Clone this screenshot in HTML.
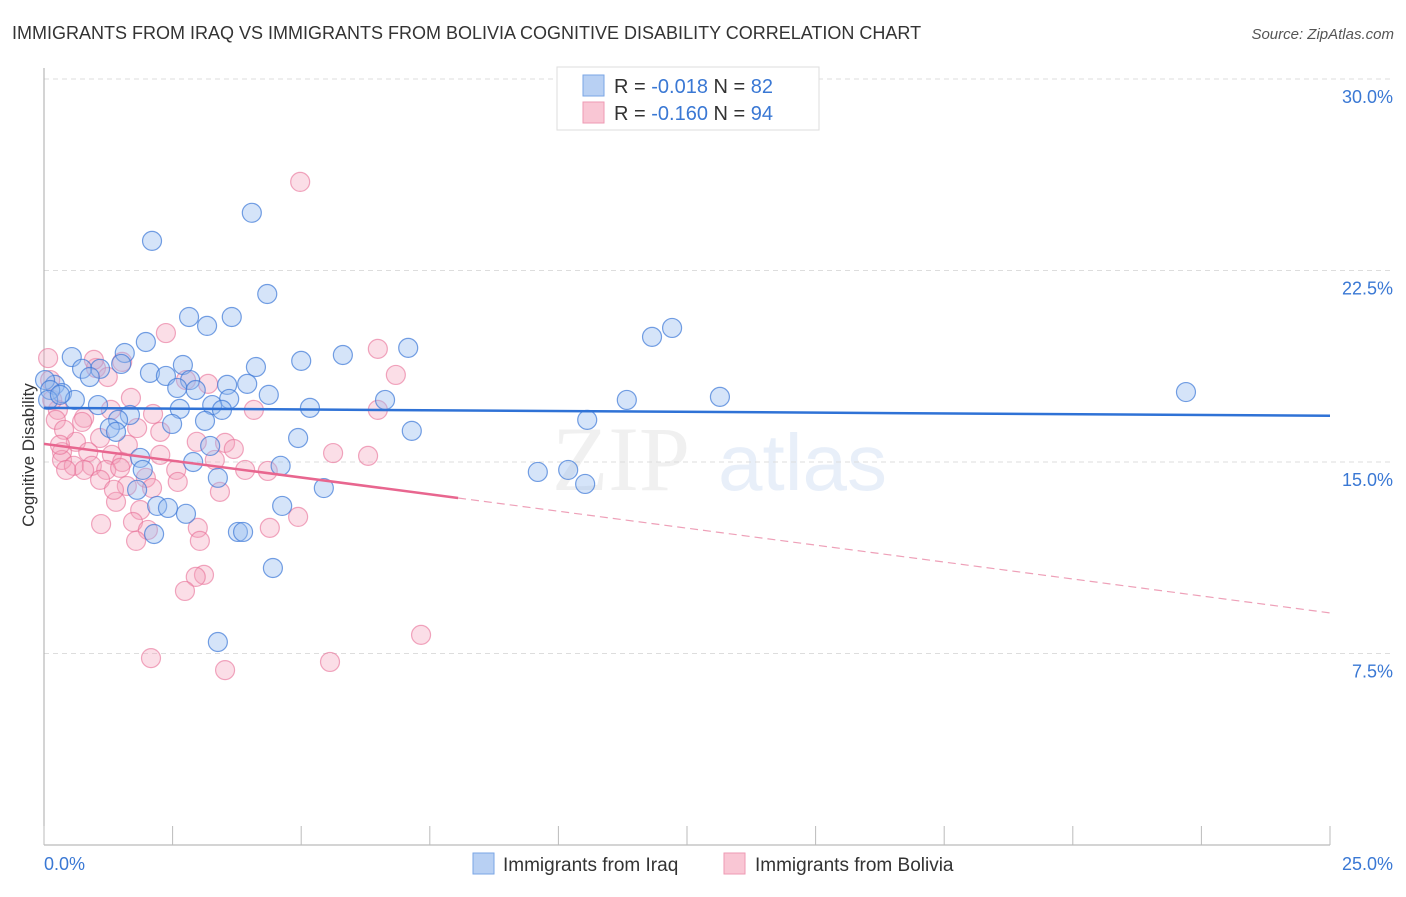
<!DOCTYPE html>
<html><head><meta charset="utf-8"><style>
body{margin:0;background:#fff;font-family:"Liberation Sans",sans-serif}
</style></head><body>
<svg width="1406" height="892" xmlns="http://www.w3.org/2000/svg" font-family="Liberation Sans, sans-serif">
<text x="12" y="39" font-size="18" fill="#333">IMMIGRANTS FROM IRAQ VS IMMIGRANTS FROM BOLIVIA COGNITIVE DISABILITY CORRELATION CHART</text>
<text x="1394" y="39" font-size="15" fill="#555" font-style="italic" text-anchor="end">Source: ZipAtlas.com</text>
<g opacity="0.12">
<text x="552" y="490" font-size="92" font-family="Liberation Serif, serif" fill="#888">ZIP</text>
<text x="718" y="490" font-size="80" fill="#4a7fd0">atlas</text></g>
<g id="grid"></g><g id="axes"></g><g id="pts"></g><g id="trends"></g>
<text transform="translate(34,455) rotate(-90)" font-size="17" fill="#333" text-anchor="middle">Cognitive Disability</text>
<g>
<rect x="557" y="67" width="262" height="63" fill="#fff" stroke="#ddd"/>
<rect x="583" y="75" width="21" height="21" fill="#b8d0f3" stroke="#7aa6e6"/>
<rect x="583" y="102" width="21" height="21" fill="#f9c6d4" stroke="#ee9ab3"/>
<text x="614" y="93" font-size="20" fill="#333">R = <tspan fill="#3a78d4">-0.018</tspan>   N = <tspan fill="#3a78d4">82</tspan></text>
<text x="614" y="120" font-size="20" fill="#333">R = <tspan fill="#3a78d4">-0.160</tspan>   N = <tspan fill="#3a78d4">94</tspan></text>
</g>
<g>
<rect x="473" y="853" width="21" height="21" fill="#b8d0f3" stroke="#7aa6e6"/>
<text x="503" y="871" font-size="19" fill="#333">Immigrants from Iraq</text>
<rect x="724" y="853" width="21" height="21" fill="#f9c6d4" stroke="#ee9ab3"/>
<text x="755" y="871" font-size="19" fill="#333">Immigrants from Bolivia</text>
</g>
</svg>
<script>
const yTicks=[7.5,15,22.5,30];
const yTickLabels=["7.5%","15.0%","22.5%","30.0%"];
const xTicks=[0,2.5,5,7.5,10,12.5,15,17.5,20,22.5,25];
const xTickLabels=["0.0%","25.0%"];
const iraqX=[4.04,2.10,4.34,3.65,2.82,3.17,1.98,1.57,0.54,5.00,5.81,7.08,11.82,12.21,4.12,2.70,1.50,1.09,0.74,2.06,2.37,2.84,3.95,3.56,2.59,2.95,4.37,3.60,6.63,11.33,13.14,22.20,0.89,0.21,0.35,0.60,1.05,1.67,2.64,3.27,3.46,5.17,1.44,1.28,1.40,2.49,3.13,10.56,7.15,4.94,3.23,1.87,2.90,4.60,1.92,9.60,10.19,10.52,3.38,1.81,5.44,4.63,2.20,2.76,2.41,3.77,3.87,2.14,4.45,3.38,0.02,0.12,0.08,0.31];
const iraqY=[24.76,23.66,21.58,20.68,20.68,20.33,19.70,19.27,19.11,18.96,19.19,19.47,19.90,20.25,18.72,18.80,18.84,18.65,18.65,18.49,18.37,18.21,18.06,18.02,17.90,17.82,17.63,17.47,17.43,17.43,17.55,17.74,18.33,18.02,17.70,17.43,17.23,16.84,17.08,17.23,17.04,17.12,16.65,16.33,16.18,16.49,16.61,16.65,16.22,15.94,15.63,15.16,15.00,14.85,14.69,14.61,14.69,14.14,14.38,13.91,13.98,13.28,13.28,12.97,13.20,12.26,12.26,12.18,10.85,7.95,18.21,17.82,17.43,17.63];
const boliviaX=[4.98,2.37,6.49,6.84,1.01,1.24,1.52,0.97,3.19,2.76,1.69,2.12,4.08,6.49,1.30,0.27,0.78,0.74,1.81,2.26,1.09,0.62,2.97,3.52,3.69,0.35,0.86,5.62,6.30,3.32,1.32,1.52,0.35,0.58,0.93,1.21,1.48,2.57,4.35,1.98,2.60,1.61,2.10,1.40,1.87,1.11,1.73,2.02,2.99,4.39,4.94,1.79,3.03,3.11,2.95,2.74,7.33,2.08,3.52,5.56,0.08,0.12,0.16,0.23,0.39,0.31,0.78,1.09,1.36,0.43,1.63,2.26,3.91,3.42];
const boliviaY=[25.97,20.05,19.43,18.41,18.68,18.33,18.92,19.00,18.06,18.21,17.51,16.88,17.04,17.04,17.04,17.04,16.73,16.57,16.33,16.18,15.94,15.79,15.79,15.75,15.51,15.39,15.39,15.35,15.24,15.08,15.28,15.00,15.08,14.85,14.85,14.69,14.77,14.69,14.65,14.38,14.22,14.06,13.98,13.44,13.12,12.57,12.65,12.34,12.42,12.42,12.85,11.91,11.91,10.58,10.50,9.95,8.23,7.32,6.85,7.17,19.07,18.21,17.43,16.65,16.26,15.67,14.69,14.30,13.91,14.69,15.67,15.28,14.69,13.83];
const iraqTrendX=[0,25];const iraqTrendY=[17.12,16.81];
const boliviaTrendX=[0,8.05,25];const boliviaTrendY=[15.71,13.59,9.09];
const NS="http://www.w3.org/2000/svg";
const X=v=>44+v/25*1286, Y=v=>845-v/30*766;
function mk(tag,attrs,parent){const e=document.createElementNS(NS,tag);for(const k in attrs)e.setAttribute(k,attrs[k]);document.getElementById(parent).appendChild(e);return e;}
yTicks.forEach((t,i)=>{
 const l=mk('line',{x1:44,x2:1394,y1:Y(t),y2:Y(t),stroke:'#ddd','stroke-dasharray':'5,4'},'grid');
 
 
 const tx=mk('text',{x:1393,y:Y(t)+24,'font-size':18,fill:'#3a78d4','text-anchor':'end'},'grid');
 tx.textContent=yTickLabels[i];
 
 
});
const ax=mk('line',{x1:44,x2:44,y1:68,y2:845,stroke:'#aaa'},'axes');


const bx=mk('line',{x1:44,x2:1330,y1:845,y2:845,stroke:'#aaa'},'axes');


xTicks.forEach(t=>{
 const l=mk('line',{x1:X(t),x2:X(t),y1:826,y2:845,stroke:'#bbb'},'axes');
 
 
});
const xl0=mk('text',{x:44,y:870,'font-size':18,fill:'#3a78d4'},'axes');xl0.textContent=xTickLabels[0];


const xl1=mk('text',{x:1393,y:870,'font-size':18,fill:'#3a78d4','text-anchor':'end'},'axes');xl1.textContent=xTickLabels[1];


boliviaX.forEach((v,i)=>{
 const c=mk('circle',{cx:X(v),cy:Y(boliviaY[i]),r:9.5,fill:'rgba(244,160,186,0.35)',stroke:'rgba(232,110,150,0.6)','stroke-width':1.2},'pts');
 
 
});
iraqX.forEach((v,i)=>{
 const c=mk('circle',{cx:X(v),cy:Y(iraqY[i]),r:9.5,fill:'rgba(150,188,240,0.4)',stroke:'rgba(60,120,215,0.7)','stroke-width':1.2},'pts');
 
 
});
const bt=mk('line',{x1:X(iraqTrendX[0]),y1:Y(iraqTrendY[0]),x2:X(iraqTrendX[1]),y2:Y(iraqTrendY[1]),stroke:'#2f72d6','stroke-width':2.5},'trends');


const pt=mk('line',{x1:X(boliviaTrendX[0]),y1:Y(boliviaTrendY[0]),x2:X(boliviaTrendX[1]),y2:Y(boliviaTrendY[1]),stroke:'#e8668f','stroke-width':2.5},'trends');


const pd=mk('line',{x1:X(boliviaTrendX[1]),y1:Y(boliviaTrendY[1]),x2:X(boliviaTrendX[2]),y2:Y(boliviaTrendY[2]),stroke:'#eea0b8','stroke-width':1.2,'stroke-dasharray':'8,5'},'trends');


</script>
</body></html>
